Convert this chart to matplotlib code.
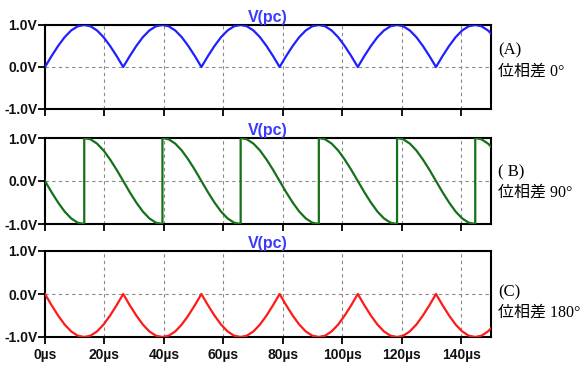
import matplotlib
matplotlib.use("Agg")
import matplotlib.pyplot as plt

# sample times (µs) for the rectified waveforms
t_us = [0.0, 2.2, 4.4, 6.6, 8.8, 11.0, 13.2, 15.3, 17.5, 19.7, 21.9, 24.1,
        26.3, 28.5, 30.7, 32.9, 35.1, 37.3, 39.5, 41.6, 43.8, 46.0, 48.2, 50.4,
        52.6, 54.8, 57.0, 59.2, 61.4, 63.6, 65.8, 67.9, 70.1, 72.3, 74.5, 76.7,
        78.9, 81.1, 83.3, 85.5, 87.7, 89.9, 92.1, 94.2, 96.4, 98.6, 100.8, 103.0,
        105.2, 107.4, 109.6, 111.8, 114.0, 116.2, 118.4, 120.5, 122.7, 124.9, 127.1, 129.3,
        131.5, 133.7, 135.9, 138.1, 140.3, 142.5, 144.7, 146.8, 149.0, 151.2]

# (A) phase difference 0 deg
v_a = [0.00, 0.26, 0.50, 0.71, 0.87, 0.97, 1.00, 0.97, 0.87, 0.71, 0.50, 0.26,
       0.00, 0.26, 0.50, 0.71, 0.87, 0.97, 1.00, 0.97, 0.87, 0.71, 0.50, 0.26,
       0.00, 0.26, 0.50, 0.71, 0.87, 0.97, 1.00, 0.97, 0.87, 0.71, 0.50, 0.26,
       0.00, 0.26, 0.50, 0.71, 0.87, 0.97, 1.00, 0.97, 0.87, 0.71, 0.50, 0.26,
       0.00, 0.26, 0.50, 0.71, 0.87, 0.97, 1.00, 0.97, 0.87, 0.71, 0.50, 0.26,
       0.00, 0.26, 0.50, 0.71, 0.87, 0.97, 1.00, 0.97, 0.87, 0.71]

# (C) phase difference 180 deg
v_c = [0.00, -0.26, -0.50, -0.71, -0.87, -0.97, -1.00, -0.97, -0.87, -0.71, -0.50, -0.26,
       0.00, -0.26, -0.50, -0.71, -0.87, -0.97, -1.00, -0.97, -0.87, -0.71, -0.50, -0.26,
       0.00, -0.26, -0.50, -0.71, -0.87, -0.97, -1.00, -0.97, -0.87, -0.71, -0.50, -0.26,
       0.00, -0.26, -0.50, -0.71, -0.87, -0.97, -1.00, -0.97, -0.87, -0.71, -0.50, -0.26,
       0.00, -0.26, -0.50, -0.71, -0.87, -0.97, -1.00, -0.97, -0.87, -0.71, -0.50, -0.26,
       0.00, -0.26, -0.50, -0.71, -0.87, -0.97, -1.00, -0.97, -0.87, -0.71]

# (B) phase difference 90 deg, sawtooth-like with jumps
t_b = [0.0, 2.2, 4.4, 6.6, 8.8, 11.0, 13.2,
       13.2, 15.3, 17.5, 19.7, 21.9, 24.1, 26.3, 28.5, 30.7, 32.9, 35.1, 37.3, 39.5,
       39.5, 41.6, 43.8, 46.0, 48.2, 50.4, 52.6, 54.8, 57.0, 59.2, 61.4, 63.6, 65.8,
       65.8, 67.9, 70.1, 72.3, 74.5, 76.7, 78.9, 81.1, 83.3, 85.5, 87.7, 89.9, 92.1,
       92.1, 94.2, 96.4, 98.6, 100.8, 103.0, 105.2, 107.4, 109.6, 111.8, 114.0, 116.2, 118.4,
       118.4, 120.5, 122.7, 124.9, 127.1, 129.3, 131.5, 133.7, 135.9, 138.1, 140.3, 142.5, 144.7,
       144.7, 146.8, 149.0, 151.2]
v_b = [0.00, -0.26, -0.50, -0.71, -0.87, -0.97, -1.00,
       1.00, 0.97, 0.87, 0.71, 0.50, 0.26, 0.00, -0.26, -0.50, -0.71, -0.87, -0.97, -1.00,
       1.00, 0.97, 0.87, 0.71, 0.50, 0.26, 0.00, -0.26, -0.50, -0.71, -0.87, -0.97, -1.00,
       1.00, 0.97, 0.87, 0.71, 0.50, 0.26, 0.00, -0.26, -0.50, -0.71, -0.87, -0.97, -1.00,
       1.00, 0.97, 0.87, 0.71, 0.50, 0.26, 0.00, -0.26, -0.50, -0.71, -0.87, -0.97, -1.00,
       1.00, 0.97, 0.87, 0.71, 0.50, 0.26, 0.00, -0.26, -0.50, -0.71, -0.87, -0.97, -1.00,
       1.00, 0.97, 0.87, 0.71]

x_ticks = [0, 20, 40, 60, 80, 100, 120, 140]
x_labels = ["0µs", "20µs", "40µs", "60µs", "80µs", "100µs", "120µs", "140µs"]
y_ticks = [-1, 0, 1]
y_labels = ["-1.0V", "0.0V", "1.0V"]
labels = ["(A)", "( B)", "(C)"]
phases = ["位相差 0°", "位相差 90°", "位相差 180°"]

W, H = 588, 369
fig = plt.figure(figsize=(W / 100, H / 100), dpi=100)

# axes boxes in pixels: (left, top, right, bottom)
boxes = [(45, 25, 491, 109), (45, 138, 491, 224), (45, 251, 491, 337)]
label_y = [(50, 72), (172, 193), (292, 313)]
series = [(t_us, v_a, "#1f1fff"), (t_b, v_b, "#16701a"), (t_us, v_c, "#ff1a1a")]

tick_font = dict(family="Liberation Sans", weight="bold", size=10, color="#111111")
note_family = ["Liberation Serif", "Noto Sans CJK JP"]

for i, (l, t, r, b) in enumerate(boxes):
    ax = fig.add_axes([l / W, 1 - b / H, (r - l) / W, (b - t) / H])
    tt, vv, col = series[i]
    ax.plot(tt, vv, color=col, linewidth=1.6, zorder=3)
    ax.set_xlim(0, 150)
    ax.set_ylim(-1, 1)
    ax.set_xticks(x_ticks)
    ax.set_yticks(y_ticks)
    ax.set_yticklabels(y_labels, fontdict=tick_font)
    if i == 2:
        ax.set_xticklabels(x_labels, fontdict=tick_font)
    else:
        ax.set_xticklabels([])
    ax.tick_params(direction="out", length=5, width=1.3, color="black", pad=0.5)
    ax.tick_params(axis="x", pad=3)
    ax.grid(True, color="#8a8a8a", linestyle=(0, (3, 3)), linewidth=0.8)
    for sp in ax.spines.values():
        sp.set_linewidth(1.5)
        sp.set_color("black")
    ax.set_title("V(pc)", color="#3a3aff", fontsize=11.5, fontweight="bold",
                 family="Liberation Sans", pad=1.5)
    fig.text(498 / W, 1 - label_y[i][0] / H, labels[i], family=note_family,
             fontsize=12, va="center", ha="left")
    fig.text(498 / W, 1 - label_y[i][1] / H, phases[i], family=note_family,
             fontsize=11.5, va="center", ha="left")

fig.savefig("out.png", dpi=100)
